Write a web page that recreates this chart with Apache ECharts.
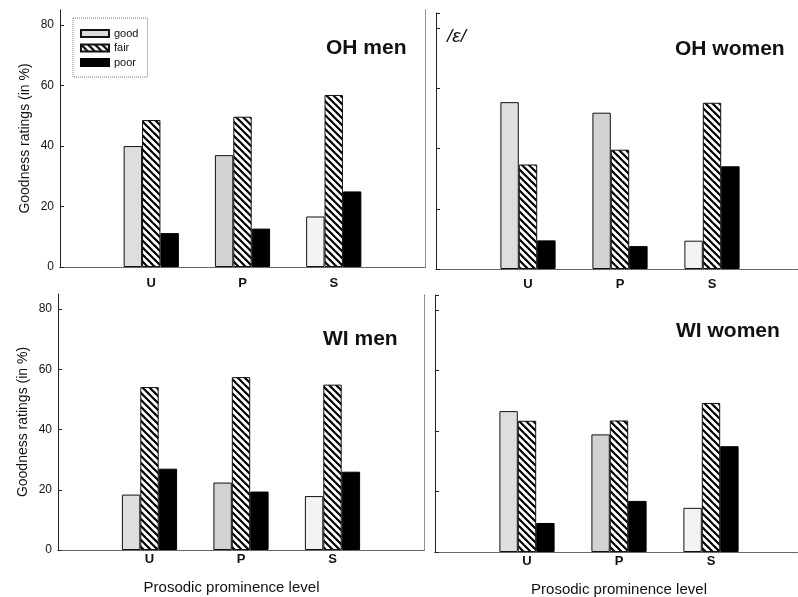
<!DOCTYPE html>
<html><head><meta charset="utf-8">
<script src="https://cdn.jsdelivr.net/npm/echarts@6/dist/echarts.min.js"></script>
<style>html,body{margin:0;padding:0;background:#fff}#c{width:798px;height:597px}</style>
</head><body><div id="c"></div>
<script>
// ---- data ----
const categories = ['U', 'P', 'S'];
const ratingLevels = ['good', 'fair', 'poor'];
const yTickValues = [0, 20, 40, 60, 80];
const panelTitles = ['OH men', 'OH women', 'WI men', 'WI women'];
const vowelLabel = '/ɛ/';
const yAxisTitle = 'Goodness ratings (in %)';
const xAxisTitle = 'Prosodic prominence level';

const ohMenGood = [40, 37, 16.7];
const ohMenFair = [48.6, 49.7, 56.9];
const ohMenPoor = [11.2, 12.7, 25];

const ohWomenGood = [55.4, 51.9, 9.4];
const ohWomenFair = [34.7, 39.6, 55.2];
const ohWomenPoor = [9.5, 7.6, 34.1];

const wiMenGood = [18.4, 22.4, 17.9];
const wiMenFair = [54.1, 57.4, 54.9];
const wiMenPoor = [27, 19.4, 26];

const wiWomenGood = [46.6, 38.9, 14.6];
const wiWomenFair = [43.4, 43.5, 49.3];
const wiWomenPoor = [9.6, 16.9, 35];

// ---- styling / layout ----
const FONT = 'Liberation Sans';
const axisCats = [''].concat(categories, [' ']);
const pad = arr => [null].concat(arr, [null]);

function makeHatch() {
  const s = 7, c = document.createElement('canvas');
  c.width = s; c.height = s;
  const x = c.getContext('2d');
  x.fillStyle = '#fff'; x.fillRect(0, 0, s, s);
  x.strokeStyle = '#000'; x.lineWidth = 2.2; x.lineCap = 'square';
  for (const k of [-s, 0, s]) { x.beginPath(); x.moveTo(k, 0); x.lineTo(k + s, s); x.stroke(); }
  return c;
}
const hatch = makeHatch();
const goodTint = ['#dedede', '#d2d2d2', '#f3f3f3'];

const panels = [
  { vals: [ohMenGood, ohMenFair, ohMenPoor], grid: { left: 60, top: 10, width: 365, height: 257 }, yLab: true, xName: false, labMargin: 10 },
  { vals: [ohWomenGood, ohWomenFair, ohWomenPoor], grid: { left: 436, top: 13, width: 368, height: 256 }, yLab: false, xName: false, labMargin: 9 },
  { vals: [wiMenGood, wiMenFair, wiMenPoor], grid: { left: 58, top: 294, width: 366, height: 256 }, yLab: true, xName: true, namePad: [0, 19, 0, 0], labMargin: 3 },
  { vals: [wiWomenGood, wiWomenFair, wiWomenPoor], grid: { left: 435, top: 295, width: 368, height: 257 }, yLab: false, xName: true, namePad: [0, 0, 0, 0], labMargin: 3 }
];

const grid = [], xAxis = [], yAxis = [], series = [];
const dotted = { show: true, lineStyle: { color: '#777', width: 1, type: 'dotted' } };

panels.forEach((p, i) => {
  grid.push(Object.assign({ containLabel: false, outerBoundsMode: 'none' }, p.grid));
  xAxis.push({
    type: 'category', gridIndex: i, data: axisCats, boundaryGap: false, position: 'bottom',
    axisLine: { show: true, lineStyle: { color: '#222', width: 1 } },
    axisTick: { show: false },
    axisLabel: { interval: 0, margin: p.labMargin, fontFamily: FONT, fontSize: 13, fontWeight: 'bold', color: '#111' },
    splitLine: { show: false },
    name: p.xName ? xAxisTitle : '', nameLocation: 'middle', nameGap: 30,
    nameTextStyle: { fontFamily: FONT, fontSize: 15, color: '#111', padding: p.namePad || 0 }
  });
  xAxis.push({
    type: 'category', gridIndex: i, data: axisCats, boundaryGap: false, position: 'top',
    axisLine: dotted, axisTick: { show: false }, axisLabel: { show: false }, splitLine: { show: false }
  });
  yAxis.push({
    type: 'value', gridIndex: i, min: 0, max: 85, interval: 20, position: 'left',
    axisLine: { show: true, lineStyle: { color: '#222', width: 1 } },
    axisTick: { show: true, inside: true, length: 4, lineStyle: { color: '#222' } },
    axisLabel: {
      show: p.yLab, margin: 6, fontFamily: FONT, fontSize: 12, color: '#111', showMaxLabel: false,
      formatter: v => (yTickValues.indexOf(v) >= 0 ? String(v) : '')
    },
    splitLine: { show: false },
    name: p.yLab ? yAxisTitle : '', nameLocation: 'middle', nameGap: 28,
    nameTextStyle: { fontFamily: FONT, fontSize: 14, color: '#111' }
  });
  yAxis.push({
    type: 'value', gridIndex: i, min: 0, max: 85, interval: 20, position: 'right',
    axisLine: dotted, axisTick: { show: false }, axisLabel: { show: false }, splitLine: { show: false }
  });
  ratingLevels.forEach((lvl, k) => {
    let itemStyle;
    if (k === 0) itemStyle = { color: '#dcdcdc', borderColor: '#111', borderWidth: 1 };
    else if (k === 1) itemStyle = { color: { image: hatch, repeat: 'repeat' }, borderColor: '#111', borderWidth: 1 };
    else itemStyle = { color: '#000', borderColor: '#000', borderWidth: 1 };
    const data = pad(p.vals[k]).map((v, j) => {
      if (v === null) return null;
      if (k === 0) return { value: v, itemStyle: { color: goodTint[j - 1] } };
      return v;
    });
    series.push({
      type: 'bar', name: lvl, xAxisIndex: 2 * i, yAxisIndex: 2 * i, data,
      barWidth: 18.4, barGap: '0%', itemStyle, silent: true, animation: false
    });
  });
});

const titleStyle = { fontFamily: FONT, fontSize: 21, fontWeight: 'bold', color: '#111' };
const title = [
  { text: panelTitles[0], left: 326, top: 38, padding: 0, textStyle: titleStyle },
  { text: panelTitles[1], left: 675, top: 39, padding: 0, textStyle: titleStyle },
  { text: panelTitles[2], left: 323, top: 329, padding: 0, textStyle: titleStyle },
  { text: panelTitles[3], left: 676, top: 321, padding: 0, textStyle: titleStyle },
  { text: vowelLabel, left: 447, top: 27, padding: 0, textStyle: { fontFamily: FONT, fontSize: 19, fontWeight: 'normal', fontStyle: 'italic', color: '#111' } }
];

const chart = echarts.init(document.getElementById('c'), null, { renderer: 'canvas' });
chart.setOption({
  animation: false,
  backgroundColor: '#fff',
  title, grid, xAxis, yAxis, series,
  legend: {
    data: ratingLevels, orient: 'vertical', left: 73, top: 18, itemWidth: 28, itemHeight: 7, itemGap: 3.5,
    padding: [10, 9, 9, 7], borderColor: '#777', borderWidth: 1, borderType: 'dotted',
    icon: 'rect', selectedMode: false,
    textStyle: { fontFamily: FONT, fontSize: 11, color: '#111' }
  }
});
</script>
</body></html>
